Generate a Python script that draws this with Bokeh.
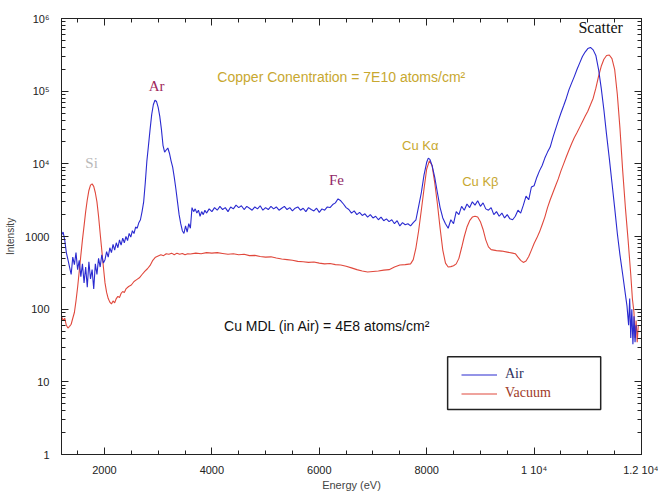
from bokeh.plotting import figure
from bokeh.models import (FixedTicker, LinearAxis, LogAxis, Label, Legend, LegendItem,
                          BoxAnnotation, ColumnDataSource, Range1d)
from bokeh.embed import file_html
from bokeh.resources import INLINE

# ---------------- data ----------------
air_e = [1200, 1230, 1260, 1290, 1320, 1350, 1380, 1410, 1440, 1470, 1500, 1530, 1560, 1590,
         1620, 1650, 1680, 1710, 1740, 1770, 1800, 1830, 1860, 1890, 1920, 1950, 1980, 2010,
         2040, 2070, 2100, 2130, 2160, 2190, 2220, 2250, 2280, 2310, 2340, 2370, 2400, 2430,
         2460, 2490, 2520, 2550, 2580, 2610, 2640, 2670, 2700, 2730, 2760, 2790, 2820, 2850,
         2880, 2910, 2940, 2970, 3000, 3030, 3060, 3090, 3120, 3150, 3180, 3210, 3240, 3270,
         3300, 3330, 3360, 3390, 3420, 3450, 3480, 3510, 3540, 3570, 3600, 3630, 3660, 3690,
         3720, 3750, 3780, 3810, 3840, 3870,
         3900, 3950, 4000, 4050, 4100, 4150, 4200, 4250, 4300, 4350, 4400, 4450, 4500, 4550,
         4600, 4650, 4700, 4750, 4800, 4850, 4900, 4950, 5000, 5050, 5100, 5150, 5200, 5250,
         5300, 5350, 5400, 5450, 5500, 5550, 5600, 5650, 5700, 5750, 5800, 5850, 5900, 5950,
         6000, 6050, 6100, 6150, 6200, 6250, 6300, 6350, 6400, 6450, 6500, 6550, 6600, 6650,
         6700, 6750, 6800, 6850, 6900, 6950, 7000, 7050, 7100, 7150, 7200, 7250, 7300, 7350,
         7400, 7450, 7500, 7550, 7600, 7650, 7700, 7750, 7800, 7850, 7900, 7950, 8000, 8030,
         8060, 8100, 8150, 8200, 8250, 8300, 8350, 8400, 8450, 8500, 8550, 8600, 8650, 8700,
         8750, 8800, 8850, 8900, 8950, 9000, 9050, 9100, 9150, 9200, 9250, 9300, 9350, 9400,
         9450, 9500, 9550, 9600, 9650, 9700, 9750, 9800, 9850, 9900, 9950, 10000, 10050,
         10100, 10150, 10200, 10250, 10300, 10350, 10400, 10450, 10500, 10550, 10600, 10650,
         10700, 10750, 10800, 10850, 10900, 10950, 11000, 11050, 11100, 11150, 11200, 11250,
         11300, 11350, 11400, 11450, 11500, 11550, 11600, 11650, 11700, 11730, 11760, 11780,
         11800, 11820, 11840, 11860, 11880, 11900]
air_i = [1050, 1150, 900, 600, 480, 380, 300, 520, 410, 600, 350, 470, 280, 420,
         230, 380, 200, 450, 260, 350, 190, 420, 300, 500, 380, 560, 430, 480,
         620, 520, 700, 600, 780, 650, 820, 700, 900, 760, 950, 820, 1000, 880,
         1100, 980, 1200, 1100, 1350, 1300, 1550, 1700, 2200, 3000, 5500, 11000, 18000, 30000,
         48000, 65000, 75000, 72000, 60000, 45000, 30000, 18000, 14500, 15500, 16500, 14000, 11000, 9000,
         6500, 4500, 3000, 2000, 1500, 1200, 1100, 1400, 1150, 1500, 1300, 2500, 2200, 2400,
         2100, 2300, 1900, 2200, 2000, 2300,
         2100, 2400, 2200, 2500, 2300, 2600, 2350, 2500, 2200, 2550, 2400, 2700, 2500, 2650,
         2350, 2600, 2450, 2300, 2550, 2400, 2650, 2300, 2500, 2350, 2600, 2400, 2550, 2300,
         2450, 2600, 2350, 2500, 2250, 2450, 2550, 2300, 2450, 2200, 2500, 2350, 2250, 2450,
         2150, 2400, 2300, 2550, 2500, 2750, 2900, 3300, 3100, 2800, 2500, 2350, 2100, 2250,
         2000, 2150, 1950, 2050, 1850, 2000, 1800, 1900, 1700, 1850, 1650, 1750, 1600, 1700,
         1500, 1650, 1400, 1550, 1450, 1500, 1400, 1550, 1700, 2600, 4000, 7000, 10500, 12000,
         11500, 9500, 6500, 4000, 2500, 1800, 1500, 1300, 1700, 1500, 2200, 2000, 2600, 2300,
         2800, 2500, 3000, 2700, 3100, 2600, 2900, 2400, 2300, 2500, 2000, 2200, 1900, 2100,
         1800, 2000, 1750, 1700, 1900, 2300, 2100, 2700, 3600, 3200, 4800, 5000, 6500,
         8000, 9500, 12000, 14500, 17000, 23000, 30000, 39000, 50000, 63000, 80000, 105000,
         130000, 160000, 200000, 245000, 300000, 345000, 385000, 400000, 370000, 310000, 200000, 110000,
         55000, 25000, 12000, 5500, 2500, 1100, 550, 300, 160, 110, 60, 140,
         40, 100, 33, 80, 35, 60]

vac_e = [1200, 1230, 1260, 1290, 1320, 1350, 1380, 1410, 1440, 1470, 1500, 1530, 1560, 1590,
         1620, 1650, 1680, 1710, 1740, 1770, 1800, 1830, 1860, 1890, 1920, 1950, 1980, 2010,
         2040, 2070, 2100, 2130, 2160, 2190, 2220, 2250, 2280, 2310, 2340, 2370, 2400, 2450,
         2500, 2550, 2600, 2650, 2700, 2750, 2800, 2850, 2900, 2950, 3000, 3050, 3100, 3150,
         3200, 3250, 3300, 3350, 3400, 3450, 3500, 3550, 3600, 3700, 3800, 3900, 4000, 4100,
         4200, 4300, 4400, 4500, 4600, 4700, 4800, 4900, 5000, 5100, 5200, 5300, 5400, 5500,
         5600, 5700, 5800, 5900, 6000, 6100, 6200, 6300, 6400, 6500, 6600, 6700, 6800, 6900,
         7000, 7100, 7200, 7300, 7400, 7500, 7600, 7700, 7750, 7800, 7850, 7900, 7950, 8000,
         8050, 8100, 8150, 8200, 8250, 8300, 8350, 8400, 8450, 8500, 8550, 8600, 8650, 8700,
         8750, 8800, 8850, 8900, 8950, 9000, 9050, 9100, 9150, 9200, 9250, 9300, 9400, 9500,
         9600, 9650, 9700, 9750, 9800, 9850, 9900, 9950, 10000, 10050, 10100, 10150, 10200,
         10250, 10300, 10350, 10400, 10450, 10500, 10550, 10600, 10650, 10700, 10750, 10800,
         10850, 10900, 10950, 11000, 11050, 11100, 11150, 11200, 11250, 11300, 11350, 11400,
         11450, 11500, 11550, 11600, 11650, 11700, 11750, 11800, 11830, 11860, 11880, 11900,
         11920, 11940]
vac_i = [80, 70, 75, 60, 55, 58, 62, 75, 90, 130, 200, 330, 550, 900,
         1400, 2200, 3200, 4300, 5100, 5300, 4900, 4000, 3000, 1900, 1100, 650, 380, 230,
         170, 140, 125, 118, 130, 122, 140, 150, 145, 165, 175, 170, 190, 205,
         215, 240, 255, 270, 300, 330, 360, 400, 470, 520, 540, 560, 545, 580,
         570, 590, 560, 590, 570, 585, 560, 580, 575, 590, 580, 600, 590, 600,
         585, 570, 580, 560, 570, 545, 550, 530, 520, 525, 505, 490, 480, 470,
         455, 450, 440, 445, 430, 420, 425, 410, 405, 390, 370, 350, 335, 325,
         330, 335, 345, 350, 380, 405, 410, 420, 480, 700, 1200, 2300, 4500, 8500,
         11000, 9500, 5500, 2800, 1300, 650, 430, 380, 385, 395, 420, 500, 700, 1000,
         1350, 1650, 1850, 1900, 1850, 1600, 1250, 900, 720, 660, 650, 640, 630, 610,
         590, 580, 520, 470, 440, 460, 530, 650, 800, 950, 1150, 1450, 1850,
         2500, 3200, 4000, 5000, 6200, 8000, 10000, 12500, 15500, 19000, 23000, 27000,
         32000, 38000, 45000, 53000, 65000, 80000, 110000, 160000, 220000, 275000, 310000, 315000,
         280000, 200000, 90000, 30000, 8000, 2500, 900, 300, 140, 90, 40, 70,
         35, 60]

x_ticks = [2000, 4000, 6000, 8000, 10000, 12000]
x_tick_labels = ["2000", "4000", "6000", "8000", "1 10\u2074", "1.2 10\u2074"]
y_ticks = [1, 10, 100, 1000, 10000, 100000, 1000000]
y_tick_labels = ["1", "10", "100", "1000", "10\u2074", "10\u2075", "10\u2076"]

# ---------------- figure ----------------
p = figure(width=658, height=493, x_range=Range1d(1200, 12000), y_range=Range1d(1, 1e6),
           y_axis_type="log", output_backend="svg", toolbar_location=None,
           min_border_left=61, min_border_right=17, min_border_top=18, min_border_bottom=38,
           background_fill_color="white", border_fill_color="white")
p.xgrid.grid_line_color = None
p.ygrid.grid_line_color = None
p.outline_line_color = "#222222"

x_minor = [v for v in range(1500, 12000, 500) if v not in x_ticks]
y_minor = [k * 10 ** d for d in range(6) for k in range(2, 10)]

SANS = "Liberation Sans"
SERIF = "Liberation Serif"


def style(ax):
    ax.major_tick_in = 7
    ax.major_tick_out = 0
    ax.minor_tick_in = 4
    ax.minor_tick_out = 0
    ax.axis_line_color = "#222222"
    ax.major_tick_line_color = "#222222"
    ax.minor_tick_line_color = "#222222"
    ax.major_label_text_font = SANS
    ax.major_label_text_color = "#222222"
    ax.major_label_text_font_size = "11px"


xa = p.xaxis[0]
xa.ticker = FixedTicker(ticks=x_ticks, minor_ticks=x_minor)
xa.major_label_overrides = dict(zip(x_ticks, x_tick_labels))
style(xa)
xa.major_label_standoff = 9
xa.axis_label = "Energy (eV)"
xa.axis_label_text_font = SANS
xa.axis_label_text_font_style = "normal"
xa.axis_label_text_font_size = "11px"
xa.axis_label_standoff = 0

ya = p.yaxis[0]
ya.ticker = FixedTicker(ticks=y_ticks, minor_ticks=y_minor)
ya.major_label_overrides = dict(zip(y_ticks, y_tick_labels))
style(ya)
ya.major_label_standoff = 12
ya.axis_label = "Intensity"
ya.axis_label_text_font = SANS
ya.axis_label_text_font_style = "normal"
ya.axis_label_text_font_size = "10px"
ya.axis_label_standoff = 6

# tick marks on the top and right frame edges (no labels)
top = LinearAxis(ticker=FixedTicker(ticks=x_ticks, minor_ticks=x_minor),
                 major_label_overrides={t: "" for t in x_ticks}, major_label_standoff=0)
style(top)
p.add_layout(top, "above")
right = LogAxis(ticker=FixedTicker(ticks=y_ticks, minor_ticks=y_minor),
                major_label_overrides={t: "" for t in y_ticks}, major_label_standoff=0)
style(right)
p.add_layout(right, "right")

air_src = ColumnDataSource(dict(e=air_e, i=air_i))
vac_src = ColumnDataSource(dict(e=vac_e, i=vac_i))
r_vac = p.line("e", "i", source=vac_src, line_color="#e0483c", line_width=1.1)
r_air = p.line("e", "i", source=air_src, line_color="#2a2ad0", line_width=1.1)

# ---------------- annotations ----------------
def lab(x, y, text, color, font, size):
    p.add_layout(Label(x=x, y=y, text=text, text_color=color, text_font=font,
                       text_font_size=size, text_align="center", text_baseline="middle"))


lab(1760, 1.02e4, "Si", "#b8b8b8", SERIF, "15px")
lab(2970, 1.17e5, "Ar", "#a0285c", SERIF, "15px")
lab(6320, 6000, "Fe", "#922a68", SERIF, "15px")
lab(7880, 1.8e4, "Cu K\u03b1", "#c8a830", SANS, "13px")
lab(9000, 5800, "Cu K\u03b2", "#c8a830", SANS, "13px")
lab(11240, 7.6e5, "Scatter", "#111111", SERIF, "16px")
lab(6410, 1.56e5, "Copper Conentration = 7E10 atoms/cm\u00b2", "#c8a830", SANS, "14px")
lab(6150, 59, "Cu MDL (in Air) = 4E8 atoms/cm\u00b2", "#111111", SANS, "14px")

# legend box (decoration) and two legends with their own text colours
p.add_layout(BoxAnnotation(left=8390, right=11240, bottom=4.15, top=22.2,
                           fill_color="white", fill_alpha=1.0,
                           line_color="#222222", line_alpha=1.0, line_width=1.5))
for rend, name, col, loc in [(r_air, "Air", "#303060", (400, 72)),
                             (r_vac, "Vacuum", "#a03a28", (400, 53))]:
    lg = Legend(items=[LegendItem(label=name, renderers=[rend])], location=loc,
                padding=0, margin=0, spacing=0, glyph_width=36, glyph_height=15,
                label_height=15, label_standoff=8,
                label_text_font=SERIF, label_text_font_size="14px",
                label_text_color=col, border_line_color=None,
                background_fill_alpha=0.0)
    p.add_layout(lg, "center")

open("out.html", "w").write(file_html(p, INLINE))
